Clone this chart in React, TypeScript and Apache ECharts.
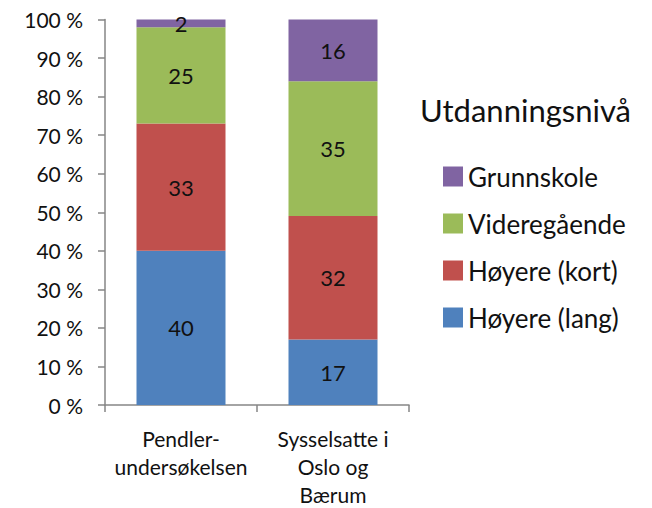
import React, { useEffect, useRef } from "react";
import * as echarts from "echarts";

const categories = ["Pendler-\nundersøkelsen", "Sysselsatte i\nOslo og\nBærum"];
const hoyereLang = [40, 17];
const hoyereKort = [33, 32];
const videregaende = [25, 35];
const grunnskole = [2, 16];
const legendOrder = ["Grunnskole", "Videregående", "Høyere (kort)", "Høyere (lang)"];
const legendTitle = "Utdanningsnivå";

const FONT = "Lato";

export default function App() {
  const ref = useRef<HTMLDivElement>(null);
  useEffect(() => {
    if (!ref.current) return;
    const chart = echarts.init(ref.current, null, { renderer: "svg" });
    const label = {
      show: true,
      position: "inside",
      color: "#111",
      fontFamily: FONT,
      fontSize: 22,
    };
    const mk = (name: string, data: number[], color: string) => ({
      name,
      type: "bar",
      stack: "total",
      data,
      barWidth: 89,
      itemStyle: { color },
      label,
    });
    chart.setOption({
      animation: false,
      backgroundColor: "#fff",
      title: {
        text: legendTitle,
        left: 415,
        top: 89,
        textStyle: { fontFamily: FONT, fontSize: 31, fontWeight: "normal", color: "#111" },
      },
      legend: {
        data: legendOrder,
        orient: "vertical",
        left: 438,
        top: 158,
        itemWidth: 20,
        itemHeight: 20,
        itemGap: 20,
        icon: "rect",
        textStyle: { fontFamily: FONT, fontSize: 26, color: "#111", lineHeight: 27 },
        selectedMode: false,
      },
      grid: { left: 105, right: 243, top: 19.5, bottom: 102, containLabel: false },
      xAxis: {
        type: "category",
        data: categories,
        axisLine: { lineStyle: { color: "#868686", width: 1.5 } },
        axisTick: { show: true, length: 7, lineStyle: { color: "#868686", width: 1.5 } },
        axisLabel: { interval: 0, fontFamily: FONT, fontSize: 21, color: "#111", lineHeight: 28, margin: 19 },
      },
      yAxis: {
        type: "value",
        min: 0,
        max: 100,
        interval: 10,
        splitLine: { show: false },
        axisLine: { show: true, lineStyle: { color: "#868686", width: 1.5 } },
        axisTick: { show: true, length: 7, lineStyle: { color: "#868686", width: 1.5 } },
        axisLabel: { fontFamily: FONT, fontSize: 21, color: "#111", margin: 22, formatter: "{value} %" },
      },
      series: [
        mk("Høyere (lang)", hoyereLang, "#4F81BD"),
        mk("Høyere (kort)", hoyereKort, "#C0504D"),
        mk("Videregående", videregaende, "#9BBB59"),
        mk("Grunnskole", grunnskole, "#8064A2"),
      ],
    });
    return () => chart.dispose();
  }, []);
  return (
    <div
      ref={ref}
      style={{ position: "fixed", left: 0, top: 0, width: 652, height: 508, overflow: "hidden" }}
    />
  );
}
